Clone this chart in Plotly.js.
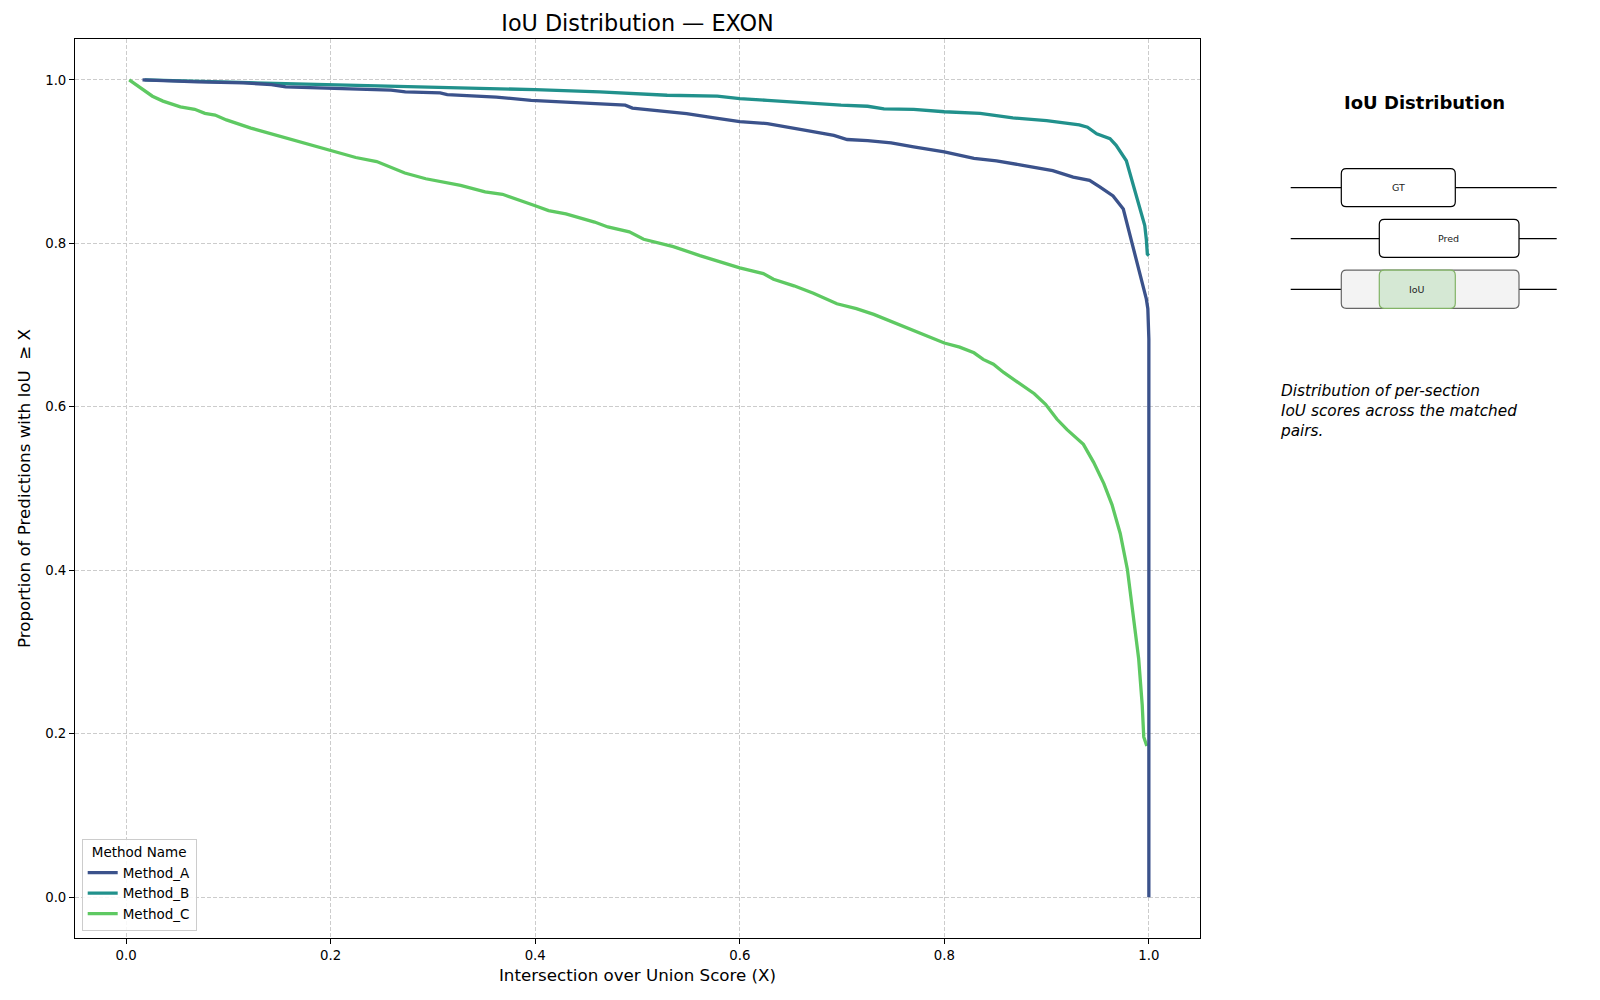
<!DOCTYPE html>
<html>
<head>
<meta charset="utf-8">
<script src="https://cdn.plot.ly/plotly-3.0.1.min.js"></script>
<style>html,body{margin:0;padding:0;background:#fff;}#chart{width:1600px;height:1000px;}</style>
</head>
<body>
<div id="chart"></div>
<script>
// ---- data ----
const methodNames = ["Method_A", "Method_B", "Method_C"];
const methodColors = ["#3b528b", "#21918c", "#5ec962"];

const methodA_x = [0.016, 0.036, 0.070, 0.115, 0.142, 0.156, 0.197, 0.231, 0.259, 0.273, 0.307, 0.314, 0.362, 0.396, 0.430, 0.464, 0.488, 0.495, 0.522, 0.548, 0.575, 0.600, 0.627, 0.649, 0.666, 0.692, 0.705, 0.725, 0.748, 0.770, 0.800, 0.829, 0.851, 0.874, 0.890, 0.906, 0.926, 0.942, 0.952, 0.965, 0.975, 0.981, 0.988, 0.994, 0.9975, 0.999, 1.0, 1.0];
const methodA_y = [1.0, 0.9988, 0.9976, 0.9963, 0.9943, 0.9915, 0.990, 0.989, 0.9874, 0.9854, 0.984, 0.982, 0.979, 0.975, 0.973, 0.970, 0.969, 0.9654, 0.962, 0.9588, 0.9535, 0.949, 0.9465, 0.942, 0.938, 0.932, 0.927, 0.9257, 0.923, 0.918, 0.912, 0.904, 0.901, 0.896, 0.893, 0.889, 0.881, 0.877, 0.869, 0.858, 0.842, 0.813, 0.781, 0.748, 0.732, 0.720, 0.683, 0.0];

const methodB_x = [0.018, 0.070, 0.120, 0.156, 0.197, 0.266, 0.327, 0.365, 0.400, 0.463, 0.496, 0.529, 0.578, 0.600, 0.627, 0.659, 0.699, 0.725, 0.741, 0.770, 0.800, 0.835, 0.867, 0.900, 0.932, 0.940, 0.949, 0.962, 0.968, 0.978, 0.984, 0.991, 0.996, 0.9975, 0.9985, 1.0];
const methodB_y = [1.0, 0.9978, 0.9965, 0.9955, 0.9943, 0.992, 0.990, 0.9895, 0.988, 0.9853, 0.9828, 0.9812, 0.980, 0.977, 0.975, 0.972, 0.969, 0.9677, 0.9645, 0.9640, 0.961, 0.959, 0.9535, 0.950, 0.945, 0.942, 0.934, 0.928, 0.920, 0.901, 0.875, 0.846, 0.8216, 0.805, 0.787, 0.785];

const methodC_x = [0.003, 0.0189, 0.0257, 0.036, 0.053, 0.067, 0.077, 0.087, 0.098, 0.122, 0.139, 0.163, 0.183, 0.200, 0.2245, 0.245, 0.2725, 0.293, 0.327, 0.351, 0.368, 0.400, 0.413, 0.430, 0.458, 0.471, 0.492, 0.506, 0.535, 0.561, 0.588, 0.600, 0.623, 0.633, 0.653, 0.672, 0.695, 0.714, 0.731, 0.753, 0.763, 0.779, 0.800, 0.815, 0.829, 0.838, 0.848, 0.858, 0.871, 0.888, 0.899, 0.910, 0.920, 0.936, 0.946, 0.956, 0.964, 0.972, 0.979, 0.985, 0.990, 0.9935, 0.995, 0.998];
const methodC_y = [1.0, 0.986, 0.980, 0.974, 0.967, 0.964, 0.959, 0.957, 0.951, 0.941, 0.935, 0.927, 0.920, 0.913, 0.905, 0.900, 0.886, 0.879, 0.871, 0.863, 0.860, 0.846, 0.840, 0.836, 0.826, 0.820, 0.814, 0.805, 0.796, 0.785, 0.774, 0.770, 0.763, 0.756, 0.748, 0.739, 0.726, 0.720, 0.713, 0.702, 0.697, 0.689, 0.678, 0.673, 0.666, 0.658, 0.652, 0.642, 0.631, 0.616, 0.603, 0.585, 0.572, 0.554, 0.532, 0.506, 0.480, 0.445, 0.401, 0.344, 0.292, 0.235, 0.196, 0.185];

const tickVals = [0.0, 0.2, 0.4, 0.6, 0.8, 1.0];
const tickText = ["0.0", "0.2", "0.4", "0.6", "0.8", "1.0"];

const chartTitle = "IoU Distribution — EXON";
const xTitle = "Intersection over Union Score (X)";
const yTitle = "Proportion of Predictions with IoU \u00a0≥ X";
const legendTitle = "Method Name";
const panelTitle = "IoU Distribution";
const boxLabels = ["GT", "Pred", "IoU"];
const captionLines = ["Distribution of per-section", "IoU scores across the matched", "pairs."];

// ---- layout geometry ----
const W = 1600, H = 1000, ML = 75, MR = 400, MT = 39, MB = 62;
const FONT = "DejaVu Sans, Verdana, sans-serif";
const PW = W - ML - MR, PH = H - MT - MB;
const px = v => (v - ML) / PW;
const py = v => (H - MB - v) / PH;

function roundRect(x0, y0, x1, y1, r) {
  const P = (a, b) => px(a).toFixed(5) + "," + py(b).toFixed(5);
  return "M" + P(x0 + r, y0) + " L" + P(x1 - r, y0) + " Q" + P(x1, y0) + " " + P(x1, y0 + r) +
    " L" + P(x1, y1 - r) + " Q" + P(x1, y1) + " " + P(x1 - r, y1) +
    " L" + P(x0 + r, y1) + " Q" + P(x0, y1) + " " + P(x0, y1 - r) +
    " L" + P(x0, y0 + r) + " Q" + P(x0, y0) + " " + P(x0 + r, y0) + " Z";
}
function hline(x0, x1, y) {
  return {type: "line", xref: "paper", yref: "paper", x0: px(x0), x1: px(x1), y0: py(y), y1: py(y),
          line: {color: "#000", width: 1.2}};
}
function rbox(x0, y0, x1, y1, fill, edge) {
  return {type: "path", xref: "paper", yref: "paper", path: roundRect(x0, y0, x1, y1, 5),
          fillcolor: fill, line: {color: edge, width: 1.2}};
}

const dL = 1290.7, dR = 1556.7, gx0 = 1341.3, gx1 = 1455.3, px0 = 1379.3, px1 = 1519;
const shapes = [
  hline(dL, gx0, 187.7), hline(gx1, dR, 187.7),
  rbox(gx0, 168.7, gx1, 206.7, "#ffffff", "#000000"),
  hline(dL, px0, 238.7), hline(px1, dR, 238.7),
  rbox(px0, 219.3, px1, 257.3, "#ffffff", "#000000"),
  hline(dL, gx0, 289.3), hline(px1, dR, 289.3),
  rbox(gx0, 270.2, px1, 308.3, "#f3f3f3", "#666666"),
  rbox(px0, 270.2, gx1, 308.3, "#d5e8d4", "#82b366")
];

const annotations = [
  {xref: "paper", yref: "paper", x: px(1424), y: py(102.7), text: "<b>" + panelTitle + "</b>",
   showarrow: false, xanchor: "center", yanchor: "middle", font: {family: FONT, size: 18, color: "#000"}},
  {xref: "paper", yref: "paper", x: px((gx0 + gx1) / 2), y: py(187.7), text: boxLabels[0],
   showarrow: false, xanchor: "center", yanchor: "middle", font: {family: FONT, size: 9.5, color: "#222"}},
  {xref: "paper", yref: "paper", x: px(1448.3), y: py(238.7), text: boxLabels[1],
   showarrow: false, xanchor: "center", yanchor: "middle", font: {family: FONT, size: 9.5, color: "#222"}},
  {xref: "paper", yref: "paper", x: px(1416.7), y: py(289.3), text: boxLabels[2],
   showarrow: false, xanchor: "center", yanchor: "middle", font: {family: FONT, size: 9.5, color: "#222"}},
  {xref: "paper", yref: "paper", x: px(1278), y: py(380), text: "<i>" + captionLines.join("<br>") + "</i>",
   showarrow: false, xanchor: "left", yanchor: "top", align: "left", font: {family: FONT, size: 15.3, color: "#000"}}
];

function trace(i, xs, ys, rank) {
  return {type: "scatter", mode: "lines", x: xs, y: ys, name: methodNames[i], legendrank: rank,
          line: {color: methodColors[i], width: 3.3}, hoverinfo: "x+y+name"};
}
// draw C, B first so A sits on top; legend ordered A, B, C
const data = [
  trace(2, methodC_x, methodC_y, 3),
  trace(1, methodB_x, methodB_y, 2),
  trace(0, methodA_x, methodA_y, 1)
];

const axisCommon = {
  range: [-0.05, 1.05], tickvals: tickVals, ticktext: tickText,
  showline: true, mirror: true, linecolor: "#000", linewidth: 1,
  ticks: "outside", ticklen: 5, tickwidth: 1, tickcolor: "#000",
  showgrid: true, gridcolor: "#cccccc", griddash: "4px,2px", gridwidth: 1,
  zeroline: false, tickfont: {family: FONT, size: 13.3, color: "#000"}, automargin: false
};

const layout = {
  width: W, height: H,
  margin: {l: ML, r: MR, t: MT, b: MB},
  paper_bgcolor: "#fff", plot_bgcolor: "#fff",
  font: {family: FONT, color: "#000"},
  title: {text: chartTitle, x: 0.5, xref: "paper", xanchor: "center", y: 1 - 23.5 / H, yref: "container",
          yanchor: "middle", font: {family: FONT, size: 22.3, color: "#000"}},
  xaxis: Object.assign({}, axisCommon, {title: {text: xTitle, standoff: 7, font: {family: FONT, size: 16.7, color: "#000"}}}),
  yaxis: Object.assign({}, axisCommon, {title: {text: yTitle, standoff: 10, font: {family: FONT, size: 16.7, color: "#000"}}}),
  showlegend: true,
  legend: {x: px(81.7), y: py(930.7), xanchor: "left", yanchor: "bottom",
           bgcolor: "rgba(255,255,255,0.85)", bordercolor: "#cccccc", borderwidth: 1,
           font: {family: FONT, size: 13.5, color: "#000"}, itemwidth: 30, tracegroupgap: 0,
           title: {text: legendTitle, side: "top center", font: {family: FONT, size: 13.5, color: "#000"}}},
  shapes: shapes,
  annotations: annotations
};

Plotly.newPlot("chart", data, layout, {displayModeBar: false, staticPlot: false});
</script>
</body>
</html>
